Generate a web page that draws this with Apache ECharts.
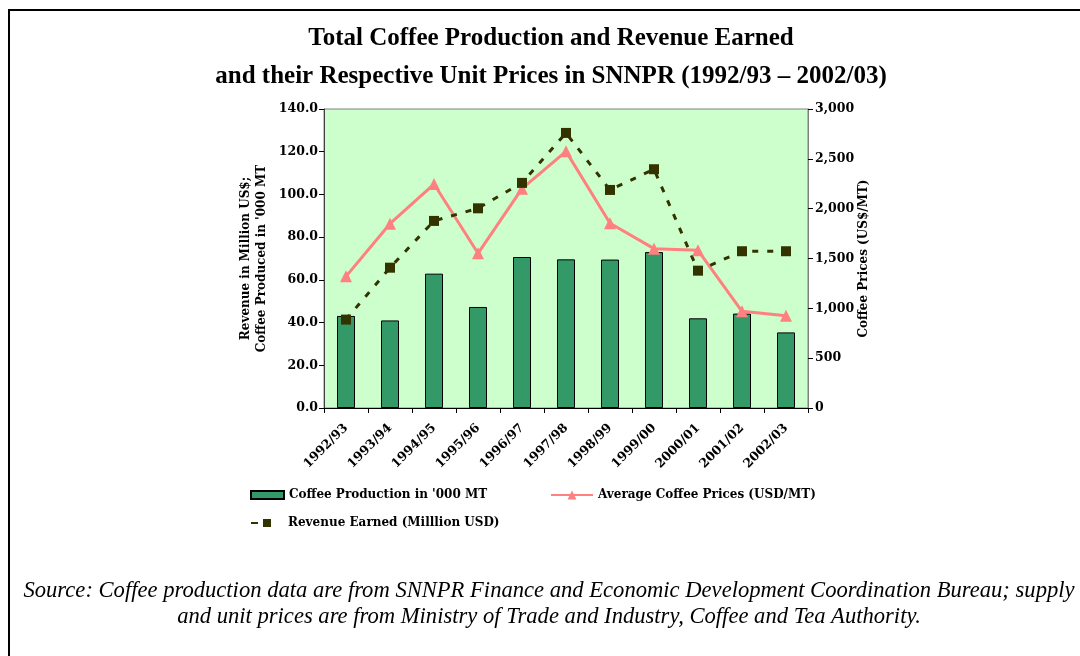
<!DOCTYPE html>
<html>
<head>
<meta charset="utf-8">
<script src="https://cdn.jsdelivr.net/npm/echarts@6/dist/echarts.min.js"></script>
<style>
html,body{margin:0;padding:0;background:#fff;}
#c{width:1080px;height:656px;}
</style>
</head>
<body>
<div id="c"></div>
<script>
var categories = ['1992/93','1993/94','1994/95','1995/96','1996/97','1997/98','1998/99','1999/00','2000/01','2001/02','2002/03'];
var production = [43.1, 41.0, 62.9, 47.3, 70.7, 69.6, 69.5, 73.0, 42.0, 44.2, 35.4];
var prices = [1321, 1849, 2247, 1552, 2201, 2575, 1853, 1599, 1582, 970, 926];
var revenue = [41.4, 65.7, 87.6, 93.5, 105.4, 128.8, 102.1, 111.8, 64.3, 73.4, 73.4];
var leftTicks = {min: 0, max: 140, interval: 20};
var rightTicks = {min: 0, max: 3000, interval: 500};

var serif = 'DejaVu Serif';
var chart = echarts.init(document.getElementById('c'), null, {renderer: 'canvas'});
chart.setOption({
  backgroundColor: '#ffffff',
  animation: false,
  graphic: [{
    type: 'rect', shape: {x: 9, y: 10, width: 1100, height: 700},
    style: {fill: null, stroke: '#000', lineWidth: 2}, z: -1
  }],
  title: [{
    text: 'Total Coffee Production and Revenue Earned\nand their Respective Unit Prices in SNNPR (1992/93 \u2013 2002/03)',
    left: 546, top: 15, textAlign: 'center',
    textStyle: {fontFamily: 'Liberation Serif', fontWeight: 'bold', fontSize: 25, lineHeight: 38, color: '#000'}
  }, {
    text: 'Source: Coffee production data are from SNNPR Finance and Economic Development Coordination Bureau; supply\nand unit prices are from Ministry of Trade and Industry, Coffee and Tea Authority.',
    left: 544, top: 573, textAlign: 'center',
    textStyle: {fontFamily: 'Liberation Serif', fontStyle: 'italic', fontWeight: 'normal', fontSize: 22.6, lineHeight: 26, color: '#000'}
  }],
  legend: [{
    data: [{name: 'Coffee Production in \'000 MT', icon: 'rect'}],
    left: 250, top: 489, padding: 0, itemWidth: 33, itemHeight: 8, itemGap: 0,
    textStyle: {fontFamily: serif, fontWeight: 'bold', fontSize: 12, color: '#000'}
  }, {
    data: ['Average Coffee Prices (USD/MT)'],
    left: 550, top: 489, padding: 0, itemWidth: 42, itemHeight: 11, itemGap: 0,
    textStyle: {fontFamily: serif, fontWeight: 'bold', fontSize: 12, color: '#000'}
  }, {
    data: ['Revenue Earned (Milllion USD)'],
    left: 250, top: 517, padding: 0, itemWidth: 32, itemHeight: 10, itemGap: 0,
    lineStyle: {type: [7, 100]},
    textStyle: {fontFamily: serif, fontWeight: 'bold', fontSize: 12, color: '#000'}
  }],
  grid: {
    left: 324, top: 109, right: 272, bottom: 248,
    show: true, backgroundColor: '#CCFFCC', borderColor: '#808080', borderWidth: 1
  },
  xAxis: {
    type: 'category', data: categories, boundaryGap: true,
    axisLine: {lineStyle: {color: '#000', width: 1}},
    axisTick: {show: true, alignWithLabel: false, length: 5, lineStyle: {color: '#000'}},
    axisLabel: {rotate: 45, fontFamily: serif, fontWeight: 'bold', fontSize: 12.5, color: '#000', margin: 18, interval: 0},
    splitLine: {show: false}
  },
  yAxis: [{
    type: 'value', min: leftTicks.min, max: leftTicks.max, interval: leftTicks.interval,
    name: 'Revenue in Million US$;\nCoffee Produced in \'000 MT',
    nameLocation: 'middle', nameRotate: 90, nameGap: 54,
    nameTextStyle: {fontFamily: serif, fontWeight: 'bold', fontSize: 12, color: '#000', lineHeight: 16},
    axisLine: {show: true, lineStyle: {color: '#404040'}},
    axisTick: {show: true, length: 5, lineStyle: {color: '#000'}},
    axisLabel: {formatter: function (v) { return v.toFixed(1); }, fontFamily: serif, fontWeight: 'bold', fontSize: 12.5, color: '#000', margin: 6},
    splitLine: {show: false}
  }, {
    type: 'value', min: rightTicks.min, max: rightTicks.max, interval: rightTicks.interval,
    position: 'right',
    name: 'Coffee Prices (US$/MT)',
    nameLocation: 'middle', nameRotate: 90, nameGap: 48,
    nameTextStyle: {fontFamily: serif, fontWeight: 'bold', fontSize: 12, color: '#000'},
    axisLine: {show: true, lineStyle: {color: '#808080'}},
    axisTick: {show: true, length: 5, lineStyle: {color: '#000'}},
    axisLabel: {formatter: function (v) { return v.toLocaleString('en-US'); }, fontFamily: serif, fontWeight: 'bold', fontSize: 12.5, color: '#000', margin: 7},
    splitLine: {show: false}
  }],
  series: [{
    name: 'Coffee Production in \'000 MT',
    type: 'bar', yAxisIndex: 0, data: production, barWidth: 18,
    itemStyle: {color: '#339966', borderColor: '#000', borderWidth: 1}
  }, {
    name: 'Average Coffee Prices (USD/MT)',
    type: 'line', yAxisIndex: 1, data: prices,
    symbol: 'triangle', symbolSize: 12,
    lineStyle: {color: '#FF8080', width: 3},
    itemStyle: {color: '#FF8080'}
  }, {
    name: 'Revenue Earned (Milllion USD)',
    type: 'line', yAxisIndex: 0, data: revenue,
    symbol: 'rect', symbolSize: 10,
    lineStyle: {color: '#333300', width: 3, type: [6, 9]},
    itemStyle: {color: '#333300'}, z: 3
  }]
});
</script>
</body>
</html>
